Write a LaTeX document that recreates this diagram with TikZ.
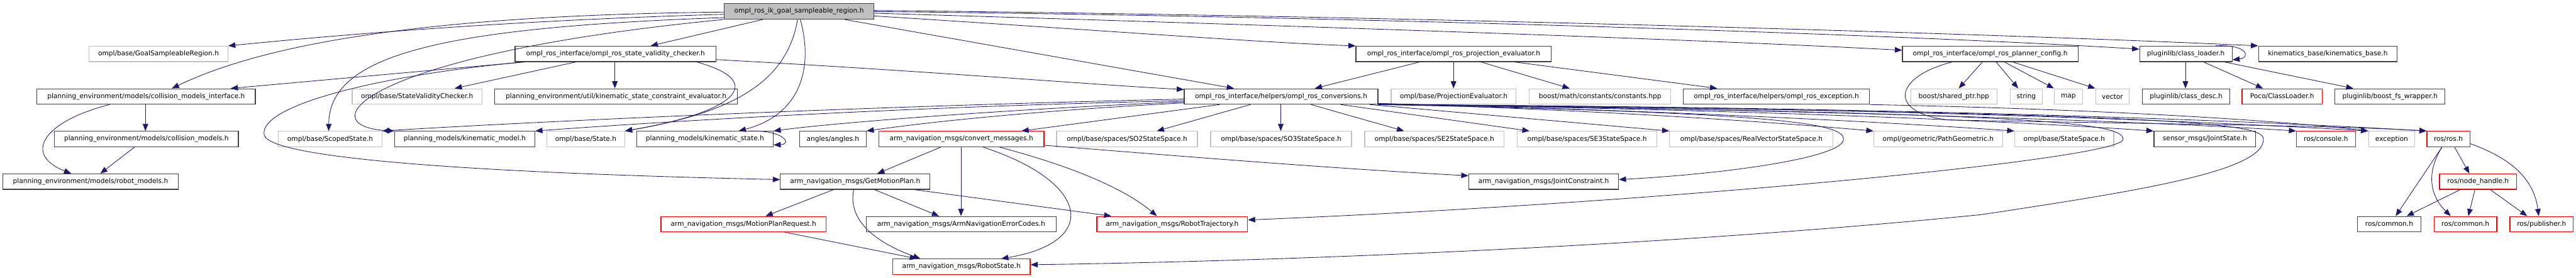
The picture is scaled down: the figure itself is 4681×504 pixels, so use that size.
\documentclass[tikz,border=0pt]{standalone}
\usepackage{fontspec}
\setmainfont{DejaVu Sans}
\usetikzlibrary{arrows.meta,calc}
\definecolor{edgecol}{HTML}{191970}
\definecolor{bk}{HTML}{404040}
\definecolor{gr}{HTML}{BFBFBF}
\definecolor{rd}{HTML}{FF0000}
\begin{document}
\begin{tikzpicture}[x=0.02cm,y=-0.02cm,
  box/.style={draw=bk, fill=white, line width=0.8pt, minimum height=0.56cm, inner sep=0pt, font=\fontsize{6.9}{8}\selectfont},
  gbox/.style={box, draw=gr},
  rbox/.style={box, draw=rd},
  w/.style={minimum width=#1*0.02cm},
  e/.style={draw=edgecol, line width=0.55pt, -{Triangle[length=0.26cm,width=0.2cm]}},
]
\fill[white] (0,0) rectangle (4681,504);
\useasboundingbox (0,0) rectangle (4681,504);

% row 0
\node[box,w=272,fill=gr] (root) at (1452,20.7) {ompl\_ros\_ik\_goal\_sampleable\_region.h};
% row 1
\node[gbox,w=252] (gsr) at (288,98) {ompl/base/GoalSampleableRegion.h};
\node[box,w=365] (svc) at (1118.5,98) {ompl\_ros\_interface/ompl\_ros\_state\_validity\_checker.h};
\node[box,w=355] (proj) at (2641.5,98) {ompl\_ros\_interface/ompl\_ros\_projection\_evaluator.h};
\node[box,w=319] (pcfg) at (3616.5,98) {ompl\_ros\_interface/ompl\_ros\_planner\_config.h};
\node[box,w=168] (cl) at (3972,98) {pluginlib/class\_loader.h};
\node[box,w=252] (kb) at (4230,98) {kinematics\_base/kinematics\_base.h};
% row 2
\node[box,w=397] (cmi) at (265.5,175.3) {planning\_environment/models/collision\_models\_interface.h};
\node[gbox,w=236] (svch) at (758,175.3) {ompl/base/StateValidityChecker.h};
\node[box,w=441] (kce) at (1119.5,175.3) {planning\_environment/util/kinematic\_state\_constraint\_evaluator.h};
\node[box,w=352] (conv) at (2328,175.3) {ompl\_ros\_interface/helpers/ompl\_ros\_conversions.h};
\node[gbox,w=227] (pe) at (2641.5,175.3) {ompl/base/ProjectionEvaluator.h};
\node[gbox,w=257] (bmc) at (2907.5,175.3) {boost/math/constants/constants.hpp};
\node[box,w=338] (exc) at (3228,175.3) {ompl\_ros\_interface/helpers/ompl\_ros\_exception.h};
\node[gbox,w=157] (sp) at (3550.5,175.3) {boost/shared\_ptr.hpp};
\node[gbox,w=58] (str) at (3682,175.3) {string};
\node[gbox,w=51] (map) at (3758.5,175.3) {map};
\node[gbox,w=61] (vec) at (3838.5,175.3) {vector};
\node[box,w=159] (cd) at (3972.5,175.3) {pluginlib/class\_desc.h};
\node[rbox,w=146] (poco) at (4147,175.3) {Poco/ClassLoader.h};
\node[box,w=200] (bfs) at (4343,175.3) {pluginlib/boost\_fs\_wrapper.h};
% row 3
\node[box,w=334] (cm) at (266,252.7) {planning\_environment/models/collision\_models.h};
\node[gbox,w=188] (ss) at (600,252.7) {ompl/base/ScopedState.h};
\node[box,w=255] (km) at (844.5,252.7) {planning\_models/kinematic\_model.h};
\node[gbox,w=141] (st) at (1064.5,252.7) {ompl/base/State.h};
\node[box,w=248] (ks) at (1281,252.7) {planning\_models/kinematic\_state.h};
\node[box,w=121] (ang) at (1513.5,252.7) {angles/angles.h};
\node[rbox,w=300] (cvm) at (1747,252.7) {arm\_navigation\_msgs/convert\_messages.h};
\node[gbox,w=256] (so2) at (2048,252.7) {ompl/base/spaces/SO2StateSpace.h};
\node[gbox,w=256] (so3) at (2328,252.7) {ompl/base/spaces/SO3StateSpace.h};
\node[gbox,w=253] (se2) at (2606.5,252.7) {ompl/base/spaces/SE2StateSpace.h};
\node[gbox,w=254] (se3) at (2884,252.7) {ompl/base/spaces/SE3StateSpace.h};
\node[gbox,w=297] (rv) at (3182.5,252.7) {ompl/base/spaces/RealVectorStateSpace.h};
\node[gbox,w=234] (pg) at (3522,252.7) {ompl/geometric/PathGeometric.h};
\node[gbox,w=180] (sts) at (3751,252.7) {ompl/base/StateSpace.h};
\node[box,w=185] (js) at (4006.5,252.7) {sensor\_msgs/JointState.h};
\node[rbox,w=107] (con) at (4226.5,252.7) {ros/console.h};
\node[gbox,w=84] (ex) at (4346,252.7) {exception};
\node[rbox,w=78] (ros) at (4449,252.7) {ros/ros.h};
% row 4
\node[box,w=319] (rm) at (164.5,330) {planning\_environment/models/robot\_models.h};
\node[box,w=272] (gmp) at (1554,330) {arm\_navigation\_msgs/GetMotionPlan.h};
\node[box,w=272] (jc) at (2805,330) {arm\_navigation\_msgs/JointConstraint.h};
\node[rbox,w=140] (nh) at (4503,330) {ros/node\_handle.h};
% row 5
\node[rbox,w=300] (mpr) at (1351,407.3) {arm\_navigation\_msgs/MotionPlanRequest.h};
\node[box,w=345] (anec) at (1746.5,407.3) {arm\_navigation\_msgs/ArmNavigationErrorCodes.h};
\node[rbox,w=274] (rt) at (2130,407.3) {arm\_navigation\_msgs/RobotTrajectory.h};
\node[box,w=115] (rc1) at (4341.5,407.3) {ros/common.h};
\node[rbox,w=114] (rc2) at (4480,407.3) {ros/common.h};
\node[rbox,w=115] (pub) at (4618.5,407.3) {ros/publisher.h};
% row 6
\node[rbox,w=250] (rs) at (1747,484.7) {arm\_navigation\_msgs/RobotState.h};

% ---- edges from root
\draw[e] ($(root.north west)+(0,20)$) .. controls (1000,35) and (700,55) .. (gsr.north east);
\draw[e] ($(root.north west)+(0,16)$) .. controls (700,28) and (450,95) .. ($(cmi.north west)+(246,0)$);
\draw[e] ($(root.north west)+(0,26)$) .. controls (800,50) and (598,100) .. ($(ss.north west)+(92,0)$);
\draw[e] (root.south west) .. controls (650,100) and (560,230) .. (km.north west);
\draw[e] ($(root.south west)+(71,0)$) -- ($(svc.north west)+(247,0)$);
\draw[e] ($(root.south west)+(139,0)$) .. controls (1480,130) and (1450,210) .. ($(ks.north west)+(186,0)$);
\draw[e] ($(root.south west)+(134,0)$) .. controls (1430,150) and (1330,205) .. (st.north east);
\draw[e] ($(root.south west)+(219,0)$) -- ($(conv.north west)+(91,0)$);
\draw[e] ($(root.north east)+(0,23)$) .. controls (2000,55) and (2300,78) .. (proj.north west);
\draw[e] ($(root.north east)+(0,18)$) .. controls (2300,45) and (3100,72) .. ($(pcfg.north west)+(0,8)$);
\draw[e] ($(root.north east)+(0,15)$) .. controls (2500,30) and (3500,65) .. ($(cl.north west)+(0,6)$);
\draw[e] ($(root.north east)+(0,13)$) .. controls (2500,28) and (3600,60) .. (kb.north west);

% ---- state validity checker
\draw[e] ($(svc.south west)+(17,0)$) -- ($(cmi.north west)+(353,0)$);
\draw[e] ($(svc.south west)+(17,0)$) .. controls (700,135) and (470,190) .. (480,245) .. controls (490,290) and (900,315) .. ($(gmp.north west)+(0,11)$);
\draw[e] ($(svc.south west)+(111,0)$) -- ($(svch.north west)+(187,0)$);
\draw[e] ($(svc.south west)+(182,0)$) -- ($(kce.north west)+(219,0)$);
\draw[e] ($(svc.north east)+(0,25)$) .. controls (1700,130) and (2000,155) .. ($(conv.north west)+(0,2)$);
\draw[e] ($(svc.south west)+(331,0)$) .. controls (1400,150) and (1330,205) .. (st.north east);

% ---- conversions
\draw[e] ($(conv.south west)+(0,-10)$) .. controls (1500,195) and (900,225) .. (ss.north east);
\draw[e] ($(conv.south west)+(0,-7)$) .. controls (1600,195) and (1150,225) .. (km.north east);
\draw[e] ($(conv.south west)+(0,-5)$) .. controls (1800,200) and (1500,225) .. (ks.north east);
\draw[e] ($(conv.south west)+(0,-3)$) .. controls (1900,200) and (1700,220) .. (ang.north east);
\draw[e] ($(conv.south west)+(65,0)$) -- ($(cvm.north west)+(260,0)$);
\draw[e] ($(conv.south west)+(121,0)$) -- ($(so2.north west)+(183,0)$);
\draw[e] ($(conv.south west)+(176,0)$) -- ($(so3.north west)+(128,0)$);
\draw[e] ($(conv.south west)+(231,0)$) -- ($(se2.north west)+(72,0)$);
\draw[e] ($(conv.south west)+(285,0)$) -- ($(se3.north west)+(23,0)$);
\draw[e] ($(conv.south west)+(338,0)$) -- (rv.north west);
\draw[e] ($(conv.south east)+(0,-2)$) .. controls (2900,200) and (3200,220) .. (pg.north west);
\draw[e] ($(conv.south east)+(0,-2)$) .. controls (3000,200) and (3400,220) .. (sts.north west);
\draw[e] ($(conv.south east)+(0,-1)$) .. controls (3200,200) and (3650,220) .. (js.north west);
\draw[e] ($(conv.south east)+(0,-1)$) .. controls (3300,200) and (3900,220) .. (con.north west);
\draw[e] (conv.south east) .. controls (3400,195) and (4000,220) .. (ex.north west);
\draw[e] (conv.south east) .. controls (3500,195) and (4100,220) .. (ros.north west);
\draw[e] (conv.south east) .. controls (3250,205) and (3350,225) .. (3350,253) .. controls (3350,285) and (3150,315) .. ($(jc.north east)+(0,11)$);
\draw[e] (conv.south east) .. controls (3700,205) and (3858,222) .. (3858,253) .. controls (3858,290) and (3000,370) .. ($(rt.north east)+(0,7)$);
\draw[e] (conv.south east) .. controls (4000,205) and (4113,225) .. (4113,253) .. controls (4113,310) and (3900,345) .. (3600,390) .. controls (3000,450) and (2300,475) .. ($(rs.north east)+(0,11)$);

% ---- projection evaluator
\draw[e] ($(proj.south west)+(116,0)$) -- ($(conv.north west)+(238,0)$);
\draw[e] ($(proj.south west)+(178,0)$) -- ($(pe.north west)+(114,0)$);
\draw[e] ($(proj.south west)+(228,0)$) -- ($(bmc.north west)+(74,0)$);
\draw[e] ($(proj.south west)+(289,0)$) -- ($(exc.north west)+(62,0)$);

% ---- planner config
\draw[e] ($(pcfg.south west)+(146,0)$) -- ($(sp.north west)+(88,0)$);
\draw[e] ($(pcfg.south west)+(171,0)$) -- ($(str.north west)+(15,0)$);
\draw[e] ($(pcfg.south west)+(186,0)$) -- (map.north west);
\draw[e] ($(pcfg.south west)+(201,0)$) -- (vec.north west);
\draw[e] ($(pcfg.south west)+(91,0)$) .. controls (3440,140) and (3430,205) .. (3540,218) .. controls (3900,225) and (4250,228) .. (ros.north west);

% ---- exception helper
\draw[e] (exc.south east) .. controls (3900,200) and (4200,225) .. (ex.north west);

% ---- class loader
\draw[e] ($(cl.north east)+(-31,0)$) .. controls (4085,80) and (4090,105) .. ($(cl.south east)+(0,-4)$);
\draw[e] ($(cl.south west)+(84,0)$) -- ($(cd.north west)+(79,0)$);
\draw[e] ($(cl.south west)+(117,0)$) -- ($(poco.north west)+(39,0)$);
\draw[e] ($(cl.south west)+(155,0)$) -- ($(bfs.north west)+(34,0)$);

% ---- kinematic state self loop
\draw[e] ($(ks.north east)+(-45,0)$) .. controls (1425,236) and (1440,262) .. ($(ks.south east)+(0,-4)$);

% ---- convert messages
\draw[e] ($(cvm.south west)+(113,0)$) -- ($(gmp.north west)+(177,0)$);
\draw[e] ($(cvm.south west)+(150,0)$) -- ($(anec.north west)+(173,0)$);
\draw[e] ($(cvm.south west)+(190,0)$) .. controls (1980,330) and (2000,440) .. ($(rs.north west)+(198,0)$);
\draw[e] ($(cvm.south west)+(220,0)$) .. controls (1940,300) and (2040,340) .. ($(rt.north west)+(110,0)$);
\draw[e] ($(cvm.north east)+(0,26)$) .. controls (2100,280) and (2400,305) .. ($(jc.north west)+(0,4)$);

% ---- get motion plan
\draw[e] ($(gmp.south west)+(97,0)$) -- ($(mpr.north west)+(191,0)$);
\draw[e] ($(gmp.south west)+(172,0)$) -- ($(anec.north west)+(133,0)$);
\draw[e] ($(gmp.south west)+(245,0)$) -- ($(rt.north west)+(27,0)$);
\draw[e] ($(gmp.south west)+(134,0)$) .. controls (1540,400) and (1590,440) .. ($(rs.north west)+(51,0)$);
\draw[e] ($(mpr.south west)+(226,0)$) -- ($(rs.north west)+(45,0)$);

% ---- collision models
\draw[e] ($(cmi.south west)+(198,0)$) -- ($(cm.north west)+(166,0)$);
\draw[e] ($(cmi.south west)+(133,0)$) .. controls (80,220) and (40,280) .. ($(rm.north west)+(125,0)$);
\draw[e] ($(cm.south west)+(146,0)$) -- ($(rm.north west)+(178,0)$);

% ---- ros
\draw[e] ($(ros.south west)+(28,0)$) -- ($(rc1.north west)+(70,0)$);
\draw[e] ($(ros.south west)+(28,0)$) .. controls (4405,320) and (4420,360) .. ($(rc2.north west)+(31,0)$);
\draw[e] ($(ros.south west)+(51,0)$) -- ($(nh.north west)+(55,0)$);
\draw[e] ($(ros.north east)+(0,23)$) .. controls (4570,290) and (4605,330) .. ($(pub.north west)+(53,0)$);
\draw[e] ($(nh.south west)+(38,0)$) -- ($(rc1.north west)+(90,0)$);
\draw[e] ($(nh.south west)+(65,0)$) -- ($(rc2.north west)+(63,0)$);
\draw[e] ($(nh.south west)+(93,0)$) -- ($(pub.north west)+(32,0)$);
\end{tikzpicture}
\end{document}
